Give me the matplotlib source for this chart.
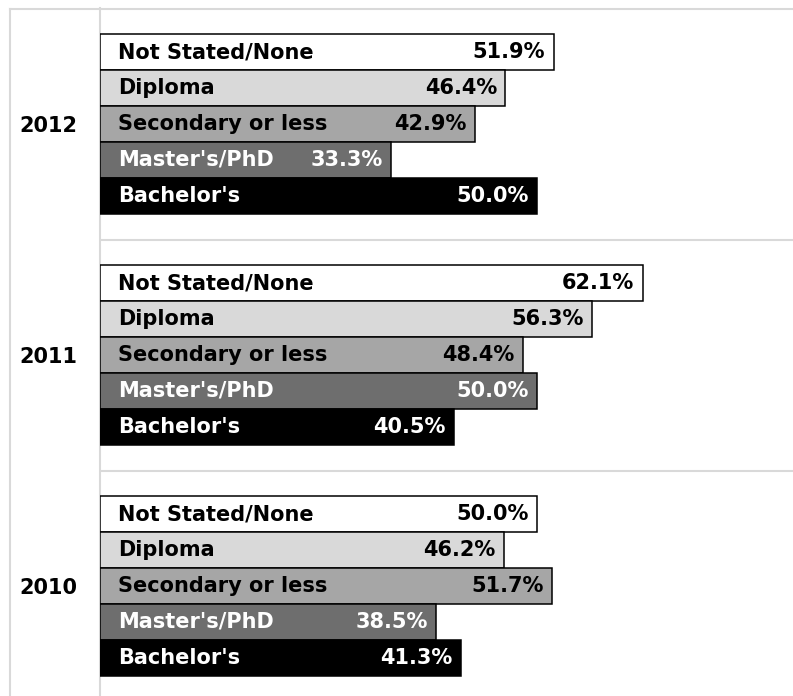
import matplotlib
matplotlib.use("Agg")
import matplotlib.pyplot as plt
from matplotlib.lines import Line2D

plt.rcParams['font.family'] = ['DejaVu Sans']

# Data
years = ["2010", "2011", "2012"]
categories = ["Not Stated/None", "Diploma", "Secondary or less", "Master's/PhD", "Bachelor's"]
values = {
    "2010": [50.0, 46.2, 51.7, 38.5, 41.3],
    "2011": [62.1, 56.3, 48.4, 50.0, 40.5],
    "2012": [51.9, 46.4, 42.9, 33.3, 50.0],
}
bar_colors = ["#ffffff", "#d9d9d9", "#a6a6a6", "#6e6e6e", "#000000"]
text_colors = ["black", "black", "black", "white", "white"]

W, H = 793, 696
fig = plt.figure(figsize=(W / 100, H / 100), dpi=100)

# axes geometry in pixels
ax_left, ax_right = 100, 793
ax_top, ax_bottom = 8.5, 701.5
ax = fig.add_axes([ax_left / W, 1 - ax_bottom / H,
                   (ax_right - ax_left) / W, (ax_bottom - ax_top) / H])

band = 6.45          # height of one year band in bar units
bar_h = 1.0
offsets = [2, 1, 0, -1, -2]

centers = []
for k, yr in enumerate(years):
    c = (k + 0.5) * band
    centers.append(c)
    for i, cat in enumerate(categories):
        v = values[yr][i]
        y = c + offsets[i] * bar_h
        ax.barh(y, v, height=bar_h, color=bar_colors[i], edgecolor="black",
                linewidth=1.1, zorder=3)
        ax.annotate(cat, xy=(0, y), xytext=(13, 0), textcoords="offset points",
                    ha="left", va="center", fontsize=15, fontweight="bold",
                    color=text_colors[i], zorder=4)
        ax.annotate(f"{v:.1f}%", xy=(v, y), xytext=(-6, 0), textcoords="offset points",
                    ha="right", va="center", fontsize=15, fontweight="bold",
                    color=text_colors[i], zorder=4)

ax.set_xlim(0, 79.3)
ax.set_ylim(0, 3 * band)

# band separators
for k in range(1, 3):
    ax.axhline(k * band, color="#d9d9d9", linewidth=1.5, zorder=1)

ax.set_yticks(centers)
ax.set_yticklabels(years, fontsize=15, fontweight="bold")
ax.tick_params(axis="y", length=0, pad=16)
ax.set_xticks([])

for side in ["top", "right", "bottom"]:
    ax.spines[side].set_visible(False)
ax.spines["left"].set_color("#d9d9d9")
ax.spines["left"].set_linewidth(1.5)

# outer frame
fig.add_artist(Line2D([10 / W, 1.0], [1 - 8.5 / H, 1 - 8.5 / H],
                      transform=fig.transFigure, color="#d9d9d9", linewidth=1.5))
fig.add_artist(Line2D([10 / W, 10 / W], [1 - 8.5 / H, 0],
                      transform=fig.transFigure, color="#d9d9d9", linewidth=1.5))

fig.savefig("out.png", dpi=100)
